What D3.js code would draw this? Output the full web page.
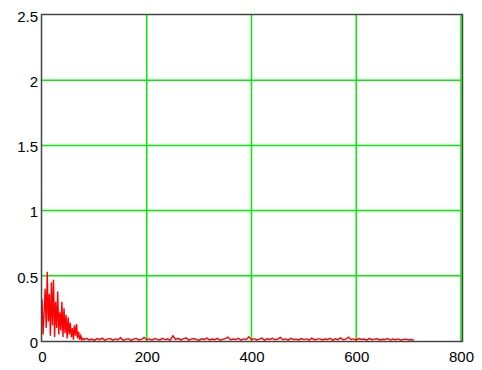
<!DOCTYPE html>
<html><head><meta charset="utf-8">
<script src="https://cdn.jsdelivr.net/npm/d3@7"></script>
<style>body{margin:0;background:#fff}svg{display:block}</style>
</head><body>
<script>
// data: early part step 2 (0..80), tail step 5 (85..710)
const headFreq = d3.range(0, 82, 2);
const headAmp = [0.32,0.05,0.22,0.40,0.10,0.53,0.15,0.36,0.04,0.45,0.12,0.47,0.03,0.30,0.10,0.38,0.05,0.22,0.08,0.30,0.03,0.25,0.06,0.20,0.02,0.18,0.05,0.14,0.03,0.10,0.01,0.12,0.04,0.13,0.02,0.07,0.01,0.04,0.01,0.02,0.01];
const tailFreq = d3.range(85, 711, 5);
const tailAmp = [0.02,0.008,0.015,0.005,0.018,0.01,0.022,0.006,0.014,0.02,0.007,0.016,0.01,0.025,0.006,0.012,0.018,0.005,0.015,0.02,0.008,0.013,0.028,0.01,0.016,0.006,0.019,0.012,0.008,0.02,0.011,0.015,0.006,0.04,0.012,0.02,0.008,0.016,0.025,0.007,0.014,0.019,0.01,0.006,0.017,0.012,0.022,0.008,0.015,0.01,0.02,0.006,0.013,0.018,0.03,0.009,0.015,0.011,0.021,0.007,0.016,0.012,0.032,0.01,0.018,0.008,0.014,0.022,0.006,0.017,0.012,0.02,0.009,0.015,0.027,0.01,0.016,0.007,0.021,0.012,0.014,0.008,0.019,0.011,0.016,0.006,0.022,0.01,0.013,0.018,0.008,0.015,0.012,0.02,0.007,0.017,0.01,0.024,0.009,0.014,0.03,0.011,0.016,0.008,0.019,0.012,0.015,0.006,0.02,0.01,0.014,0.017,0.008,0.013,0.011,0.019,0.007,0.015,0.01,0.016,0.006,0.012,0.014,0.008,0.011,0.006];
const xTicks = [0,200,400,600,800];
const yTicks = [0,0.5,1,1.5,2,2.5];
const yTickLabels = ["0","0.5","1","1.5","2","2.5"];

const data = headFreq.map((f,i)=>[f,headAmp[i]]).concat(tailFreq.map((f,i)=>[f,tailAmp[i]]));

const W=482,H=370;
const svg=d3.select("body").append("svg").attr("width",W).attr("height",H);
const x=d3.scaleLinear().domain([0,800]).range([42,461]);
const y=d3.scaleLinear().domain([0,2.5]).range([341,15]);

// grid
svg.append("g").selectAll("line").data(xTicks.filter(d=>d>0)).join("line")
  .attr("x1",d=>x(d)).attr("x2",d=>x(d)).attr("y1",y(2.5)).attr("y2",y(0))
  .attr("stroke","#00ee00").attr("stroke-width",1.5);
svg.append("g").selectAll("line").data(yTicks.filter(d=>d>0&&d<2.5)).join("line")
  .attr("x1",x(0)).attr("x2",x(800)).attr("y1",d=>y(d)).attr("y2",d=>y(d))
  .attr("stroke","#00ee00").attr("stroke-width",1.5);

// data line
svg.append("path").datum(data)
  .attr("d",d3.line().x(d=>x(d[0])).y(d=>y(d[1])))
  .attr("fill","none").attr("stroke","#ff0000").attr("stroke-width",1.4);

// frame
svg.append("rect").attr("x",41.5).attr("y",14.5).attr("width",421).attr("height",327)
  .attr("fill","none").attr("stroke","#444").attr("stroke-width",1.5);

// axes labels
const xa=d3.axisBottom(x).tickValues(xTicks).tickSize(0).tickPadding(10);
const gx=svg.append("g").attr("transform","translate(0,341)").call(xa);
gx.select(".domain").remove();
gx.selectAll("text").attr("font-family","Liberation Sans, Arial, sans-serif").attr("font-size",15).attr("fill","#000");

const ya=d3.axisLeft(y).tickValues(yTicks).tickFormat((d,i)=>yTickLabels[i]).tickSize(0).tickPadding(4);
const gy=svg.append("g").attr("transform","translate(42,0)").call(ya);
gy.select(".domain").remove();
gy.selectAll("text").attr("font-family","Liberation Sans, Arial, sans-serif").attr("font-size",15).attr("dy","0.42em").attr("fill","#000");
</script>
</body></html>
